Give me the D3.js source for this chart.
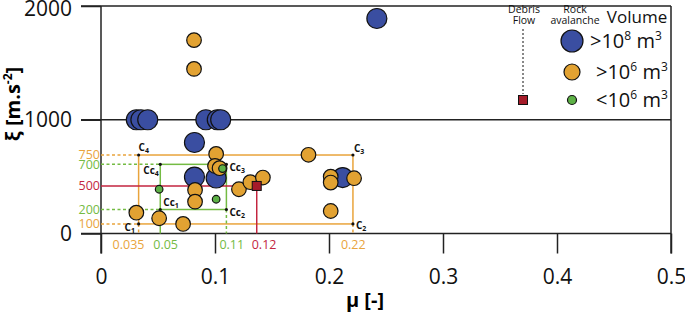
<!DOCTYPE html>
<html>
<head>
<meta charset="utf-8">
<script src="https://cdn.jsdelivr.net/npm/d3@7"></script>
<style>
  body { margin: 0; background: #fff; }
  svg { font-family: "Open Sans", "DejaVu Sans", sans-serif; }
</style>
</head>
<body>
<svg id="chart"></svg>
<script>
// points: [mu, xi]
const volumeLarge = [[0.242, 1890], [0.031, 1000], [0.035, 1000], [0.041, 1000], [0.092, 1000], [0.102, 1000],
    [0.105, 1000], [0.082, 800], [0.082, 496], [0.101, 488], [0.212, 492]];
const volumeMedium = [[0.0816, 1700], [0.0816, 1447], [0.101, 700], [0.100, 594], [0.104, 574], [0.0825, 383],
    [0.0825, 280], [0.072, 84], [0.121, 389], [0.131, 451], [0.142, 492], [0.182, 692], [0.2015, 500],
    [0.2015, 448], [0.222, 486], [0.2015, 198], [0.031, 183], [0.051, 134]];
const volumeSmall = [[0.051, 389], [0.101, 301], [0.1066, 571]];
const debrisFlow = [[0.1366, 418]];

// rock avalanche envelope (orange), calibrated box (green), debris flow (red)
const envMu = [0.033, 0.221];
const envXi = [84, 690];
const envMuLabels = ['0.035', '0.22'];
const envXiLabels = ['100', '750'];
const calMu = [0.052, 0.110];
const calXi = [211, 608];
const calMuLabels = ['0.05', '0.11'];
const calXiLabels = ['200', '700'];
const dfMuLabel = '0.12';
const dfXiLabel = '500';

const xTicks = [0, 0.1, 0.2, 0.3, 0.4, 0.5];
const yTicks = [0, 1000, 2000];

const legendLabels = [['>10', '8'], ['>10', '6'], ['<10', '6']];

class ScatterChart {
    constructor (config) {
        this.config = {
            parent: config.parent,
            width: config.width || 685,
            height: config.height || 316
        };
        this.init();
    }

    init() {
        let self = this;
        self.svg = d3.select(self.config.parent)
            .attr('width', self.config.width)
            .attr('height', self.config.height);

        self.xscale = d3.scaleLinear().domain([0, 0.5]).range([101, 671]);
        self.yscale = d3.scaleLinear().domain([0, 2000]).range([233.5, 6]);
    }

    render() {
        let self = this;
        const x = self.xscale, y = self.yscale;
        const orange = '#e9a43c', green = '#74bb43', red = '#c3253f';
        const ink = '#222';

        // frame
        const frame = self.svg.append('g').attr('stroke', ink).attr('stroke-width', 1.5);
        frame.append('line').attr('x1', 81).attr('x2', x(0.5)).attr('y1', y(2000)).attr('y2', y(2000));
        frame.append('line').attr('x1', 81).attr('x2', x(0.5)).attr('y1', y(1000)).attr('y2', y(1000));
        frame.append('line').attr('x1', 81).attr('x2', x(0.5)).attr('y1', y(0)).attr('y2', y(0));
        frame.append('line').attr('x1', x(0)).attr('x2', x(0)).attr('y1', y(2000)).attr('y2', y(0) + 20);
        frame.append('line').attr('x1', x(0.5)).attr('x2', x(0.5)).attr('y1', y(2000)).attr('y2', y(0) + 20);

        const xaxis = d3.axisBottom(x).tickValues(xTicks).tickFormat(d => d === 0 ? '0' : d3.format('.1f')(d))
            .tickSizeInner(20).tickSizeOuter(0).tickPadding(16);
        const yaxis = d3.axisLeft(y).tickValues(yTicks).tickFormat(d3.format('d'))
            .tickSizeInner(20).tickSizeOuter(0).tickPadding(9);

        const xg = self.svg.append('g').attr('transform', `translate(0, ${y(0)})`).call(xaxis);
        const yg = self.svg.append('g').attr('transform', `translate(${x(0)}, 0)`).call(yaxis);
        [xg, yg].forEach(g => {
            g.select('.domain').remove();
            g.selectAll('line').attr('stroke', ink).attr('stroke-width', 1.5);
            g.selectAll('text').attr('fill', '#111').style('font-size', '21px').style('font-family', '"Open Sans", sans-serif');
        });
        yg.selectAll('.tick').filter(d => d === 2000).select('text').attr('dy', '0.45em');

        // axis titles
        self.svg.append('text')
            .attr('x', 365).attr('y', 307)
            .attr('text-anchor', 'middle')
            .style('font-size', '20px').style('font-weight', 'bold')
            .text('μ [-]');

        const ylab = self.svg.append('text')
            .attr('transform', 'translate(20, 104) rotate(-90)')
            .attr('text-anchor', 'middle')
            .style('font-size', '20px').style('font-weight', 'bold');
        ylab.append('tspan').text('ξ [m.s');
        ylab.append('tspan').attr('dy', -8).style('font-size', '12px').text('-2');
        ylab.append('tspan').attr('dy', 8).text(']');

        // annotation lines
        const ann = self.svg.append('g').attr('fill', 'none').attr('stroke-width', 1.5);
        const seg = (x1, y1, x2, y2, col, dash) => ann.append('line')
            .attr('x1', x1).attr('y1', y1).attr('x2', x2).attr('y2', y2)
            .attr('stroke', col).attr('stroke-dasharray', dash ? '3,2.5' : null);

        // orange envelope
        ann.append('rect')
            .attr('x', x(envMu[0])).attr('y', y(envXi[1]))
            .attr('width', x(envMu[1]) - x(envMu[0])).attr('height', y(envXi[0]) - y(envXi[1]))
            .attr('stroke', orange);
        envXi.forEach(v => seg(x(0), y(v), x(envMu[0]), y(v), orange, true));
        envMu.forEach(v => seg(x(v), y(envXi[0]), x(v), y(0), orange, true));

        // green box
        ann.append('rect')
            .attr('x', x(calMu[0])).attr('y', y(calXi[1]))
            .attr('width', x(calMu[1]) - x(calMu[0])).attr('height', y(calXi[0]) - y(calXi[1]))
            .attr('stroke', green);
        calXi.forEach(v => seg(x(0), y(v), x(calMu[0]), y(v), green, true));
        seg(x(calMu[0]), y(calXi[0]), x(calMu[0]), y(0), green, false);
        seg(x(calMu[1]), y(calXi[0]), x(calMu[1]), y(0), green, true);

        // red debris flow
        const df = debrisFlow[0];
        seg(x(0), y(df[1]), x(df[0]), y(df[1]), red, false);
        seg(x(df[0]), y(df[1]), x(df[0]), y(0), red, false);

        // points
        const pts = self.svg.append('g').attr('stroke', '#111').attr('stroke-width', 1.2);
        const groups = [[volumeLarge, '#3a4ea1', 10], [volumeMedium, '#e2a232', 7.3], [volumeSmall, '#5db146', 3.8]];
        groups.forEach(([data, fill, r]) => {
            pts.selectAll(null).data(data).enter().append('circle')
                .attr('cx', d => x(d[0])).attr('cy', d => y(d[1]))
                .attr('r', r).attr('fill', fill);
        });
        pts.selectAll(null).data(debrisFlow).enter().append('rect')
            .attr('x', d => x(d[0]) - 4.5).attr('y', d => y(d[1]) - 4.5)
            .attr('width', 9).attr('height', 9)
            .attr('fill', '#a51c2a').attr('stroke-width', 1);

        // corner markers
        const corners = [
            [envMu[0], envXi[0], 'C', '', '1', -14, 7],
            [envMu[1], envXi[0], 'C', '', '2', 3, 5],
            [envMu[1], envXi[1], 'C', '', '3', 1, -3],
            [envMu[0], envXi[1], 'C', '', '4', 0, -4],
            [calMu[0], calXi[0], 'C', 'c', '1', 3, -3],
            [calMu[1], calXi[0], 'C', 'c', '2', 3, 7],
            [calMu[1], calXi[1], 'C', 'c', '3', 3, 7],
            [calMu[0], calXi[1], 'C', 'c', '4', -17, 10]
        ];
        const cg = self.svg.append('g');
        corners.forEach(c => {
            cg.append('circle').attr('cx', x(c[0])).attr('cy', y(c[1])).attr('r', 1.6).attr('fill', '#111');
            const t = cg.append('text')
                .attr('x', x(c[0]) + c[5]).attr('y', y(c[1]) + c[6])
                .style('font-size', '10px').style('font-weight', 'bold').attr('fill', '#111');
            t.append('tspan').text(c[2] + c[3]);
            t.append('tspan').attr('dy', 2).style('font-size', '7px').text(c[4]);
        });

        // coloured value labels
        const lab = self.svg.append('g').style('font-size', '12.5px');
        const ylabels = [
            [envXi[1], envXiLabels[1], orange], [calXi[1], calXiLabels[1], green],
            [df[1], dfXiLabel, red], [calXi[0], calXiLabels[0], green], [envXi[0], envXiLabels[0], orange]
        ];
        ylabels.forEach(d => lab.append('text')
            .attr('x', x(0) - 1).attr('y', y(d[0])).attr('dy', '0.35em')
            .attr('text-anchor', 'end').attr('fill', d[2]).text(d[1]));
        const xlabels = [
            [envMu[0], envMuLabels[0], orange, -26], [calMu[0], calMuLabels[0], green, -7],
            [calMu[1], calMuLabels[1], green, -7], [df[0], dfMuLabel, red, -5], [envMu[1], envMuLabels[1], orange, -12]
        ];
        xlabels.forEach(d => lab.append('text')
            .attr('x', x(d[0]) + d[3]).attr('y', y(0) + 15)
            .attr('fill', d[2]).text(d[1]));

        // legend
        const lg = self.svg.append('g');
        const small = (tx, ty, s) => lg.append('text').attr('x', tx).attr('y', ty)
            .attr('text-anchor', 'middle').style('font-size', '10.5px').attr('fill', '#111').text(s);
        small(524, 13, 'Debris');
        small(524, 23.5, 'Flow');
        small(575, 13, 'Rock');
        small(575, 23.5, 'avalanche');
        lg.append('text').attr('x', 637).attr('y', 23).attr('text-anchor', 'middle')
            .style('font-size', '17px').attr('fill', '#111').text('Volume');
        lg.append('line').attr('x1', 523).attr('x2', 523).attr('y1', 29).attr('y2', 94)
            .attr('stroke', '#111').attr('stroke-dasharray', '2,2').attr('stroke-width', 1);
        lg.append('rect').attr('x', 518.5).attr('y', 95.5).attr('width', 9).attr('height', 9)
            .attr('fill', '#a51c2a').attr('stroke', '#111');
        const lrows = [[41, '#3a4ea1', 11, 590], [72, '#e2a232', 8, 596], [100, '#5db146', 4.5, 596]];
        lrows.forEach((r, i) => {
            lg.append('circle').attr('cx', 572).attr('cy', r[0]).attr('r', r[2])
                .attr('fill', r[1]).attr('stroke', '#111').attr('stroke-width', 1.2);
            const t = lg.append('text').attr('x', r[3]).attr('y', r[0] + 7)
                .style('font-size', '20px').attr('fill', '#111');
            t.append('tspan').text(legendLabels[i][0]);
            t.append('tspan').attr('dy', -8).style('font-size', '12px').text(legendLabels[i][1]);
            t.append('tspan').attr('dy', 8).text(' m');
            t.append('tspan').attr('dy', -8).style('font-size', '12px').text('3');
        });
    }
}

const chart = new ScatterChart({ parent: '#chart', width: 685, height: 316 });
chart.render();
</script>
</body>
</html>
